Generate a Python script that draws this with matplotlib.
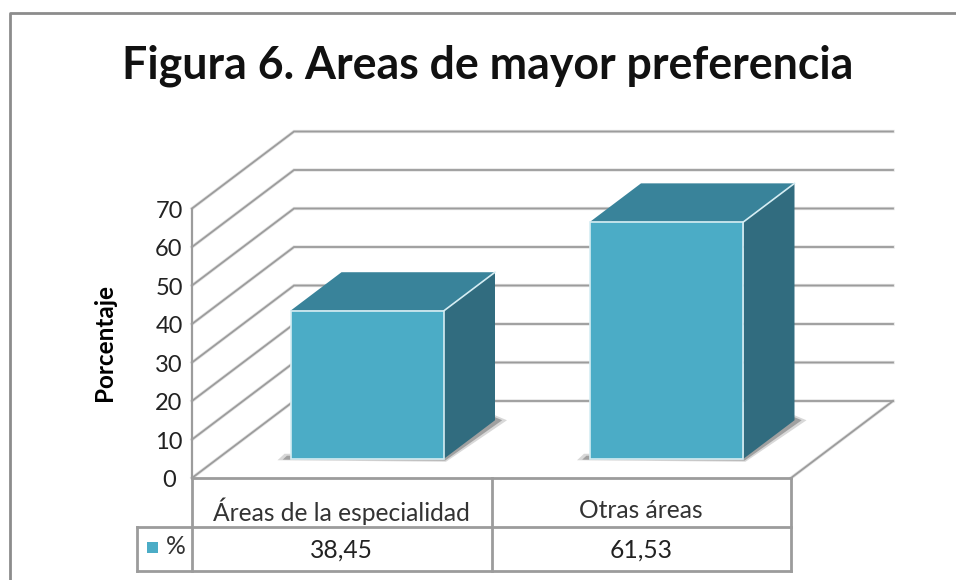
import matplotlib

matplotlib.use("Agg")
import matplotlib.pyplot as plt
from matplotlib.patches import Polygon, Rectangle

plt.rcParams["font.family"] = ["Lato", "DejaVu Sans"]

title = "Figura 6. Areas de mayor preferencia"
y_label = "Porcentaje"
categories = ["Áreas de la especialidad", "Otras áreas"]
values = [38.45, 61.53]
value_labels = ["38,45", "61,53"]
y_ticks = [0, 10, 20, 30, 40, 50, 60, 70]
series_name = "%"

W, H = 956, 580
cat_px = 299.5  # px per category
val_px = 3.85  # px per percent
x0_px, y0_px = 192, 478
depth_x = 102 / cat_px
depth_v = 77 / val_px
bar_w = 0.5125
GRID = "#9c9c9c"
HALO = "#e2e2e2"
FRONT = "#4bacc6"
TOP = "#39839a"
SIDE = "#316c7f"


def pt(x, v, d=0.0):
    # oblique projection: d = 0 front of the floor, d = 1 back wall
    return (x + d * depth_x, v + d * depth_v)


def add_line(ax, pts, color=GRID, lw=1.5, z=2, halo=False):
    xs = [p[0] for p in pts]
    ys = [p[1] for p in pts]
    if halo:
        ax.plot(xs, ys, color=HALO, lw=lw + 1.1, zorder=z - 0.5, solid_joinstyle="miter")
    ax.plot(xs, ys, color=color, lw=lw, zorder=z,
            solid_capstyle="projecting", solid_joinstyle="miter")


fig = plt.figure(figsize=(W / 100, H / 100), dpi=100)
ax = fig.add_axes([0, 0, 1, 1])
ax.set_xlim(-x0_px / cat_px, (W - x0_px) / cat_px)
ax.set_ylim(-(H - y0_px) / val_px, y0_px / val_px)
ax.axis("off")

# grid on the side and back walls
for t in y_ticks:
    add_line(ax, [pt(0, t, 0), pt(0, t, 1), pt(2, t, 1)], lw=1.3, halo=True)
add_line(ax, [pt(0, 0, 0), pt(0, y_ticks[-1], 0)], lw=1.6)
# floor
add_line(ax, [pt(2, 0, 0), pt(2, 0, 1)], lw=1.3, halo=True)

# bars
for i, v in enumerate(values):
    c = i + 0.5
    xl, xr = c - bar_w / 2, c + bar_w / 2
    # shadow on the floor, soft layer then dark layer
    for spread, col in [(1.0, "#d8d8d8"), (0.6, "#a0a0a0")]:
        ax.add_patch(Polygon([pt(xl - spread * 13 / cat_px, -spread * 1.5 / val_px, 0.25),
                              pt(xl - spread * 6 / cat_px, spread * 5 / val_px, 0.25),
                              pt(xl, spread * 5 / val_px, 0.25),
                              pt(xr + 2 / cat_px, spread * 5 / val_px, 0.25),
                              pt(xr, spread * 5 / val_px, 0.75),
                              pt(xr + spread * 12 / cat_px, 0, 0.75),
                              pt(xr + spread * 2 / cat_px, -spread * 3 / val_px, 0.25)],
                             closed=True, fc=col, ec="none", zorder=3))
    ax.add_patch(Polygon([pt(xr, 0, 0.25), pt(xr, 0, 0.75), pt(xr, v, 0.75), pt(xr, v, 0.25)],
                         closed=True, fc=SIDE, ec="none", zorder=4))
    ax.add_patch(Polygon([pt(xl, v, 0.25), pt(xr, v, 0.25), pt(xr, v, 0.75), pt(xl, v, 0.75)],
                         closed=True, fc=TOP, ec="none", zorder=4))
    ax.add_patch(Polygon([pt(xl, 0, 0.25), pt(xr, 0, 0.25), pt(xr, v, 0.25), pt(xl, v, 0.25)],
                         closed=True, fc=FRONT, ec="#d5edf3", lw=1.2, zorder=5))
    add_line(ax, [pt(xr, v, 0.25), pt(xr, v, 0.75)], color="#d5edf3", lw=1.2, z=6)

# y axis labels
for t in y_ticks:
    ax.text(-23 / cat_px, t - 0.65, str(t), ha="center", va="center", fontsize=17, color="#222222")
ax.text(-87 / cat_px, 35.3, y_label, rotation=90, ha="center", va="center",
        fontsize=17.5, fontweight="bold", color="black")

# data table
row1 = -49 / val_px
row2 = -93 / val_px
left = -55 / cat_px
add_line(ax, [pt(0, 0), pt(2, 0)], lw=2)
add_line(ax, [pt(left, row1), pt(2, row1)], lw=2)
add_line(ax, [pt(left, row2), pt(2, row2)], lw=2)
for x in [0, 1, 2]:
    add_line(ax, [pt(x, 0), pt(x, row2)], lw=2)
add_line(ax, [pt(left, row1), pt(left, row2)], lw=2)

for i, (cat, lab) in enumerate(zip(categories, value_labels)):
    ax.text(i + 0.5, -33 / val_px, cat, ha="center", va="center", fontsize=17.7, color="#333333")
    ax.text(i + 0.5, -72 / val_px, lab, ha="center", va="center", fontsize=17.7, color="#222222")
ax.add_patch(Rectangle((-45.5 / cat_px, -75 / val_px), 11.5 / cat_px, 11.5 / val_px, fc=FRONT, ec="none"))
ax.text(-16 / cat_px, -68 / val_px, series_name, ha="center", va="center", fontsize=17.7, color="#333333")

ax.text(0.5105, 0.886, title, transform=ax.transAxes, ha="center", va="center",
        fontsize=32.1, fontweight="bold", color="#111111")

# chart frame, runs off the picture on the right and at the bottom
frame = [(9.5, H), (9.5, 12.5), (W, 12.5)]
fig.add_artist(plt.Line2D([p[0] / W for p in frame], [1 - p[1] / H for p in frame],
                          color="#8c8c8c", lw=2))

fig.savefig("out.png", dpi=100)
